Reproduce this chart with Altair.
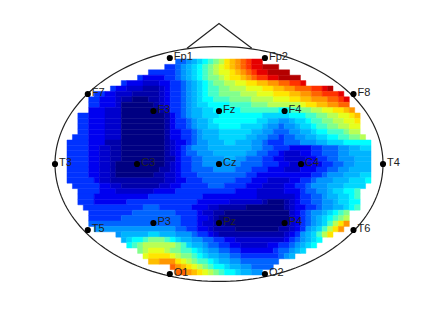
import altair as alt
import numpy as np
import pandas as pd

# electrode montage in head units (nose up, T3/T4 at +-1)
names = ["Fp1","Fp2","F7","F3","Fz","F4","F8","T3","C3","Cz","C4","T4","T5","P3","Pz","P4","T6","O1","O2"]
ex = [-0.30,0.28,-0.80,-0.40,0.0,0.40,0.82,-1.0,-0.50,0.0,0.50,1.0,-0.80,-0.40,0.0,0.40,0.82,-0.30,0.28]
ey = [0.906,0.906,0.598,0.453,0.453,0.453,0.598,0.0,0.0,0.0,0.0,0.0,-0.564,-0.504,-0.504,-0.504,-0.564,-0.940,-0.940]

nose_x = [-0.195,0.0,0.20]
nose_y = [0.99,1.20,0.99]

levels = list("0123456789abcdefghijkl")
colors = ["#000082","#0000aa","#0000cd","#0000f0","#0032ff","#0064ff","#0096ff","#00b4ff","#00d7ff","#00ffff",
          "#46ffc8","#82ff8c","#b9ff55","#e6ff1e","#ffe600","#ffbe00","#ff9600","#ff6400","#ff3200","#e60000","#b40000","#800000"]

# potential map: each row = first cell, then level:end-cell runs (56 x 40 cells, top to bottom)
rows = [
"20 5:22 6:23 7:24 8:25 9:26 a:27 b:28 c:29 e:30 f:31 g:32 h:33 i:34 j:36",
"18 4:20 5:21 6:22 7:23 8:24 9:25 a:26 b:27 c:28 d:29 e:30 f:31 g:32 h:33 i:34 j:36 k:39",
"15 4:20 5:21 6:22 7:23 8:24 9:25 a:26 b:27 c:28 d:30 e:31 f:32 g:33 h:34 i:35 j:37 k:41",
"13 4:14 3:18 4:20 5:21 6:22 7:23 8:24 9:25 a:26 b:28 c:29 d:30 e:32 f:33 g:34 h:35 i:37 j:39 k:43",
"10 4:11 3:14 2:17 3:19 4:21 5:22 6:23 7:24 8:25 9:26 a:27 b:29 c:31 d:33 e:35 f:37 g:39 h:41 i:43 j:44",
"8 4:9 3:11 2:14 1:17 2:18 3:19 4:21 5:22 6:23 7:24 8:25 9:26 a:28 b:30 c:33 d:36 e:38 f:40 g:42 h:45 i:47 j:48 k:49",
"5 4:7 3:9 2:12 1:17 2:18 3:19 4:21 5:22 6:23 7:24 8:25 9:26 a:28 b:32 c:35 d:38 e:41 f:43 g:45 h:47 i:50 j:51",
"4 4:6 3:9 2:10 1:12 0:15 1:17 2:18 3:19 4:21 5:22 6:23 7:24 8:25 9:27 a:30 b:34 c:38 d:41 e:43 f:45 g:48 h:50 i:51 j:52",
"4 4:6 3:9 2:10 0:16 1:17 2:18 3:19 4:21 5:22 6:23 7:24 8:26 9:30 a:34 b:37 c:43 d:44 e:46 f:48 g:50 h:52",
"4 3:7 2:10 0:17 1:18 2:19 4:21 5:22 6:23 7:25 8:27 9:32 a:39 9:41 a:43 b:45 c:47 d:49 e:51 f:52 g:53",
"2 4:4 3:7 2:10 0:18 1:19 3:20 4:21 5:22 6:23 7:25 8:28 9:36 8:41 9:44 a:46 b:48 c:50 d:52 e:53 f:54",
"2 4:4 3:7 2:10 0:18 1:19 3:20 4:22 5:23 6:24 7:26 8:27 9:35 8:37 7:39 6:41 7:42 8:44 9:45 a:47 b:49 c:51 d:53 e:54",
"2 4:4 3:7 2:10 0:18 1:19 3:20 4:22 5:23 6:24 7:26 8:28 9:32 8:36 7:37 6:39 5:40 6:42 7:43 8:45 9:46 a:48 b:50 c:52 d:54",
"2 4:4 3:7 2:10 0:18 1:19 3:21 4:23 5:24 6:25 7:28 8:34 7:36 6:38 5:41 6:43 7:45 8:46 9:48 a:51 b:52 c:54",
"1 4:4 3:7 2:10 0:18 1:19 3:21 4:23 5:24 6:25 7:28 8:33 7:35 6:37 5:39 4:40 5:42 6:44 7:46 8:48 9:50 a:52 b:54 c:55",
"0 4:4 3:7 1:10 0:18 1:19 2:20 3:22 4:23 5:24 6:26 7:29 8:31 7:34 6:36 5:37 4:40 5:43 6:46 7:48 8:51 9:56",
"0 4:4 3:6 2:8 1:10 0:18 1:19 2:20 3:21 4:22 5:23 6:26 7:34 6:36 5:38 4:41 3:45 4:47 5:50 6:52 7:54 8:56",
"0 4:4 3:6 2:8 1:10 0:18 1:19 2:20 3:21 4:22 5:24 6:27 7:33 6:35 5:37 4:39 3:40 2:43 3:45 4:47 5:50 6:52 7:56",
"0 4:4 3:6 2:8 1:10 0:18 1:20 3:21 4:23 5:25 6:29 7:31 6:33 5:36 4:38 3:40 2:44 3:46 4:48 5:50 6:53 7:56",
"0 4:4 3:6 2:8 1:9 0:18 1:19 2:20 3:21 4:23 5:25 6:32 5:36 4:39 3:41 2:45 3:47 4:49 5:51 6:53 7:56",
"0 4:4 3:6 2:8 1:9 0:17 1:19 2:20 3:21 4:23 5:27 6:31 5:34 4:37 3:40 2:43 3:46 4:48 5:50 6:52 7:56",
"0 4:4 3:6 2:8 1:9 0:16 1:18 2:20 3:21 4:24 5:33 4:35 3:45 4:47 5:48 6:51 7:54 8:56",
"0 4:5 3:6 2:8 1:18 2:20 3:22 4:25 5:31 4:34 3:37 2:41 3:43 4:45 5:46 6:49 7:52 8:55 9:56",
"1 4:6 3:8 2:10 1:17 2:19 3:21 4:26 5:29 4:33 3:36 2:40 3:42 4:44 5:45 6:48 7:51 8:55",
"2 4:6 3:9 2:16 3:20 4:31 3:35 2:40 3:43 4:44 5:46 6:48 7:49 8:51 9:53 a:54",
"2 4:5 3:15 4:25 3:35 2:42 3:43 4:45 5:47 6:48 7:50 8:52 9:53 a:54",
"2 4:5 3:11 4:24 3:30 2:36 1:37 0:40 1:41 2:42 3:43 4:45 5:47 6:49 7:50 8:52 9:54",
"3 4:14 5:17 4:23 3:26 2:28 1:33 0:40 1:41 2:42 3:44 4:46 5:47 6:49 7:51 8:52 9:53 a:54",
"4 4:12 5:20 4:24 3:25 2:27 1:29 0:41 2:42 3:43 4:44 5:45 6:47 7:48 8:49 9:50 a:51 b:52",
"4 4:10 5:21 4:24 3:26 2:27 1:28 0:41 2:42 3:43 4:44 5:45 6:46 7:47 8:48 9:49 a:50 b:51 c:52",
"4 5:21 4:24 3:25 2:27 1:29 0:40 1:41 2:42 3:43 4:44 5:45 6:46 7:47 8:48 a:49 c:50 e:51 g:52",
"5 6:20 5:22 4:24 3:26 2:27 1:31 0:39 1:41 2:42 3:43 4:44 6:45 7:46 8:47 a:48 c:49 e:50 g:51",
"9 6:10 7:15 8:17 7:20 6:23 5:24 4:26 3:27 2:28 1:40 2:41 3:42 4:43 6:44 7:45 8:46 a:47 c:48 e:49",
"10 7:11 8:12 9:14 a:15 b:18 a:19 9:20 8:21 7:23 6:25 5:27 4:29 3:31 2:40 3:41 4:42 5:43 6:44 7:45 8:46 9:47",
"11 9:12 a:13 b:14 c:20 b:21 a:22 8:23 7:25 6:26 5:28 4:30 3:32 2:37 3:39 4:41 5:42 6:43 7:44 8:45 9:46",
"13 b:14 c:15 d:18 c:19 b:21 a:23 9:24 8:25 7:26 6:28 5:30 4:32 3:38 4:39 5:41 6:42 7:43 8:44",
"14 d:15 e:19 d:20 c:21 b:23 a:24 9:25 8:26 7:28 6:30 5:32 4:39 5:40 6:41 7:42",
"15 f:17 g:20 e:21 d:22 c:23 b:24 a:26 9:27 8:28 7:30 6:32 5:39",
"19 h:20 g:21 f:22 e:23 d:24 c:25 b:26 a:27 9:29 8:30 7:32 6:34 5:38",
"20 h:22 g:23 f:24 e:25 d:26 c:27 b:28 a:29 9:31 8:32 7:34 6:36",
]

# map extents in head units
MAP_L, MAP_R, MAP_T, MAP_B = -0.9268, 0.9268, 0.8974, -0.9487
N_COLS, N_ROWS = 56, 40
dx_cell = (MAP_R - MAP_L) / N_COLS
dy_cell = (MAP_T - MAP_B) / N_ROWS

recs = []
for j, row in enumerate(rows):
    toks = row.split()
    c = int(toks[0])
    for t in toks[1:]:
        lv, end = t.split(":")
        end = int(end)
        if end > c:
            recs.append(dict(x=MAP_L + c * dx_cell, x2=MAP_L + end * dx_cell,
                             y=MAP_T - j * dy_cell, y2=MAP_T - (j + 1) * dy_cell, lv=lv))
        c = end
cells = pd.DataFrame(recs)

xs = alt.Scale(domain=[-1.2866, 1.1951], nice=False, zero=False)
ys = alt.Scale(domain=[-1.2393, 1.3333], nice=False, zero=False)
X = lambda f: alt.X(f, scale=xs, axis=None)
Y = lambda f: alt.Y(f, scale=ys, axis=None)

col = alt.Scale(domain=levels, range=colors)
field = alt.Chart(cells).mark_rect(strokeWidth=0.5).encode(
    x=X("x:Q"), x2="x2:Q", y=Y("y:Q"), y2="y2:Q",
    color=alt.Color("lv:N", scale=col, legend=None),
    stroke=alt.Stroke("lv:N", scale=col, legend=None),
)

t = np.linspace(0, 2 * np.pi, 181)
head = pd.DataFrame({"x": np.cos(t), "y": 1.004 * np.sin(t), "i": range(181)})
outline = alt.Chart(head).mark_line(color="#222222", strokeWidth=1.2).encode(
    x=X("x:Q"), y=Y("y:Q"), order="i:Q")
nose = alt.Chart(pd.DataFrame({"x": nose_x, "y": nose_y, "i": [0, 1, 2]})).mark_line(
    color="#222222", strokeWidth=1.2).encode(x=X("x:Q"), y=Y("y:Q"), order="i:Q")

elec = pd.DataFrame({"x": ex, "y": ey, "n": names})
dots = alt.Chart(elec).mark_point(filled=True, color="#000000", size=38, opacity=1).encode(
    x=X("x:Q"), y=Y("y:Q"))
labels = alt.Chart(elec).mark_text(align="left", baseline="middle", dx=4, dy=-1, font="Liberation Sans",
                                   fontSize=11, color="#222222").encode(
    x=X("x:Q"), y=Y("y:Q"), text="n:N")

chart = alt.layer(field, outline, nose, dots, labels).properties(
    width=407, height=301, padding=0,
    autosize=alt.AutoSizeParams(type="none"),
).configure_view(stroke=None)

chart.save("out.html", embed_options={"renderer": "svg", "actions": False})
